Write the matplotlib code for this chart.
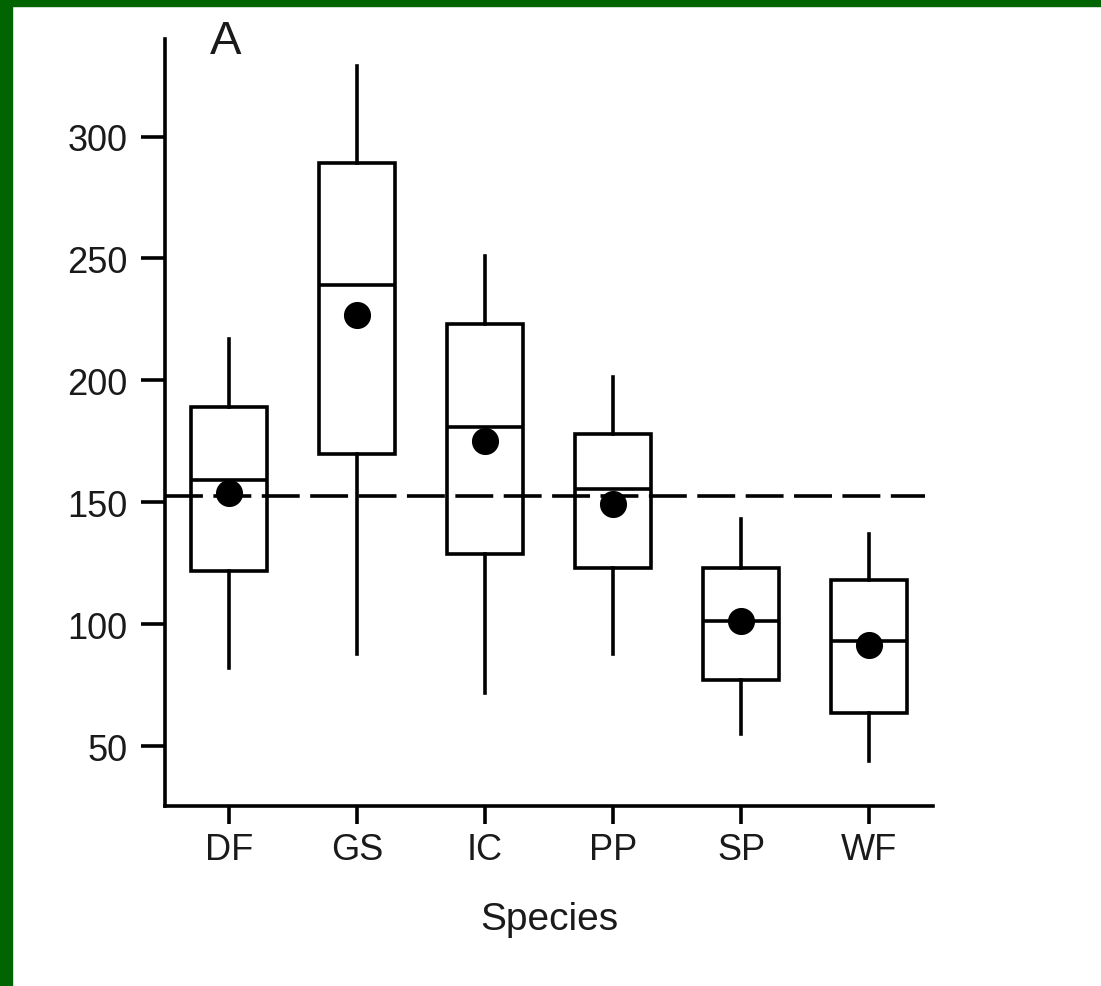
import matplotlib
matplotlib.use("Agg")
import matplotlib.pyplot as plt
from matplotlib.patches import Rectangle

plt.rcParams['font.family'] = ['Liberation Sans', 'DejaVu Sans']

# values
species = ["DF", "GS", "IC", "PP", "SP", "WF"]
whis_lo = [82, 88, 72, 88, 55, 44]
q1 = [122, 170, 129, 123, 77, 63.5]
median = [159, 239, 181, 155.5, 101.5, 93]
q3 = [189, 289, 223, 178, 123, 118]
whis_hi = [217, 329, 251, 201.5, 143, 137]
mean = [154, 227, 175, 149.5, 101.5, 91.5]
overall_mean = 152.5
yticks = [50, 100, 150, 200, 250, 300]

stats = []
for i in range(len(species)):
    stats.append(dict(label=species[i], whislo=whis_lo[i], q1=q1[i], med=median[i],
                      q3=q3[i], whishi=whis_hi[i], mean=mean[i], fliers=[]))

fig = plt.figure(figsize=(11.01, 9.87), dpi=100)
ax = fig.add_axes([165/1101, 180/987, 768/1101, 767/987])

lw = 2.6
ax.axhline(overall_mean, xmax=0.99, color='black', lw=lw, dashes=(10.5, 2.9), zorder=1)

ax.bxp(stats, positions=range(1, 7), widths=0.6, showmeans=True, showcaps=False,
       showfliers=False, patch_artist=True,
       boxprops=dict(facecolor='none', edgecolor='black', linewidth=lw),
       medianprops=dict(color='black', linewidth=lw),
       whiskerprops=dict(color='black', linewidth=lw),
       meanprops=dict(marker='o', markerfacecolor='black', markeredgecolor='black',
                      markersize=18.5))

ax.set_xlim(0.5, 6.5)
ax.set_ylim(25.5, 340)
ax.set_yticks(yticks)
ax.set_xticks(range(1, 7))
ax.set_xticklabels(species)

for s in ['top', 'right']:
    ax.spines[s].set_visible(False)
for s in ['left', 'bottom']:
    ax.spines[s].set_linewidth(lw)

ax.tick_params(axis='y', length=17, width=lw, pad=10, labelsize=26, labelcolor='#1a1a1a')
ax.tick_params(axis='x', length=13, width=lw, pad=6, labelsize=26, labelcolor='#1a1a1a')
ax.set_xlabel("Species", fontsize=28, color='#1a1a1a', labelpad=24)

ax.text(61/768, 0.997, "A", transform=ax.transAxes, ha='center', va='center',
        fontsize=34, color='#1a1a1a')

# green frame on top and left
fig.patches.append(Rectangle((0, 1 - 7/987), 1, 7/987, transform=fig.transFigure,
                             color='#006400', zorder=10))
fig.patches.append(Rectangle((0, 0), 12/1101, 1, transform=fig.transFigure,
                             color='#006400', zorder=10))

fig.savefig("out.png", dpi=100)
